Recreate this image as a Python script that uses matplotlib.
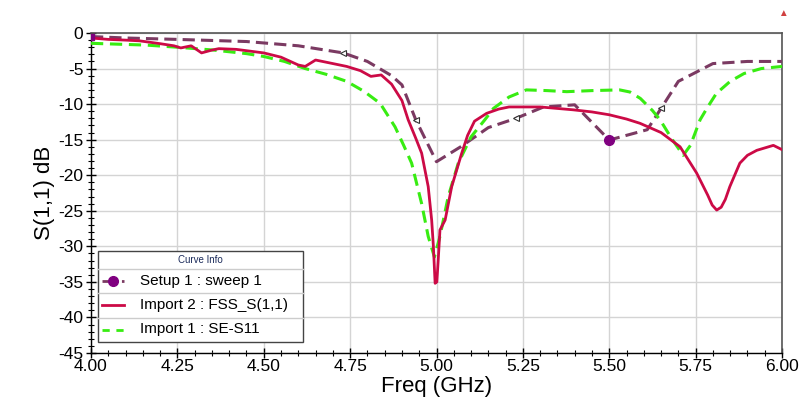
import matplotlib
matplotlib.use("Agg")
import matplotlib.pyplot as plt
from matplotlib.lines import Line2D
from matplotlib.patches import Rectangle
from matplotlib.ticker import MultipleLocator

# ---------------- data ----------------
sweep_f = [4.00, 4.10, 4.25, 4.45, 4.60, 4.73, 4.80, 4.87, 4.90, 4.94, 5.00,
           5.07, 5.15, 5.23, 5.31, 5.40, 5.50, 5.61, 5.65, 5.70, 5.80, 5.90, 6.00]
sweep_db = [-0.5, -0.7, -0.9, -1.2, -1.8, -2.8, -4.0, -6.0, -7.3, -12.2, -18.1,
            -16.0, -13.3, -12.0, -10.4, -10.1, -15.05, -13.6, -10.6, -6.8, -4.3, -4.0, -4.0]

fss_f = [4.00, 4.05, 4.10, 4.14, 4.20, 4.24, 4.26, 4.29, 4.32, 4.35, 4.37, 4.42,
         4.50, 4.55, 4.60, 4.62, 4.65, 4.70, 4.74, 4.78, 4.81, 4.84, 4.87, 4.90,
         4.918, 4.94, 4.957, 4.976, 4.986, 4.991, 4.996, 5.001, 5.005, 5.01, 5.025, 5.044,
         5.073, 5.09, 5.11, 5.145, 5.18, 5.21, 5.30, 5.395, 5.45, 5.50, 5.55, 5.589, 5.65,
         5.705, 5.753, 5.785, 5.798, 5.811, 5.824, 5.836, 5.849, 5.878, 5.90, 5.927, 5.975, 6.00]
fss_db = [-0.7, -0.9, -1.0, -1.1, -1.5, -1.8, -2.1, -1.8, -2.8, -2.4, -2.2, -2.3,
          -2.8, -3.4, -4.5, -4.7, -3.8, -4.3, -4.7, -5.3, -6.1, -5.9, -7.2, -9.5,
          -12.2, -14.8, -16.9, -21.6, -26.3, -30.0, -35.2, -35.0, -31.9, -27.7, -26.3, -21.6,
          -16.9, -14.4, -12.4, -11.3, -10.7, -10.4, -10.4, -10.8, -11.1, -11.5, -12.1, -12.7, -14.0,
          -16.0, -19.7, -22.8, -24.2, -24.9, -24.5, -23.4, -21.6, -18.3, -17.2, -16.5, -15.8, -16.4]

se_f = [4.00, 4.16, 4.25, 4.355, 4.45, 4.50, 4.56, 4.62, 4.68, 4.74, 4.79, 4.837,
        4.88, 4.905, 4.928, 4.957, 4.976, 4.994, 5.01, 5.034, 5.063, 5.10, 5.14,
        5.165, 5.21, 5.26, 5.32, 5.377, 5.45, 5.53, 5.56, 5.59, 5.625, 5.647,
        5.68, 5.714, 5.735, 5.763, 5.785, 5.81, 5.85, 5.89, 5.94, 6.00]
se_db = [-1.45, -1.7, -2.0, -2.4, -2.9, -3.3, -4.0, -5.0, -5.8, -6.8, -8.2, -9.9,
         -13.2, -15.8, -18.3, -24.0, -28.6, -31.5, -28.6, -23.0, -18.3, -14.6, -12.2,
         -10.6, -9.0, -8.0, -8.1, -8.25, -8.1, -8.0, -8.3, -9.2, -10.9, -12.2,
         -14.8, -17.2, -15.8, -12.2, -10.4, -8.5, -6.8, -5.7, -5.0, -4.7]

labels = ["Setup 1 : sweep 1", "Import 2 : FSS_S(1,1)", "Import 1 : SE-S11"]
xticks = [4.00, 4.25, 4.50, 4.75, 5.00, 5.25, 5.50, 5.75, 6.00]
yticks = [0, -5, -10, -15, -20, -25, -30, -35, -40, -45]

c_sweep = "#7b3a62"
c_fss = "#cc0a46"
c_se = "#38ec12"

# ---------------- figure ----------------
plt.rcParams['font.family'] = ['Liberation Sans', 'DejaVu Sans']
fig = plt.figure(figsize=(8.0, 4.07), dpi=100)
ax = fig.add_axes([91/800, 1-353/407, (782-91)/800, (353-33)/407])

ax.plot(sweep_f, sweep_db, color=c_sweep, lw=2.2, dashes=(4, 2), zorder=3)
# arrow-like triangle markers on the sweep curve
tri_idx = [5, 9, 13, 18]
ax.plot([sweep_f[i] for i in tri_idx], [sweep_db[i] for i in tri_idx], ls='none',
        marker='<', ms=5, mfc='white', mec='#333333', mew=0.8, zorder=5)
ax.plot([sweep_f[16]], [sweep_db[16]], ls='none', marker='o', ms=7, color='#800080', zorder=6)
ax.plot([sweep_f[0]], [sweep_db[0]], ls='none', marker='s', ms=4, color='#800080', zorder=6)

ax.plot(fss_f, fss_db, color=c_fss, lw=2.0, zorder=4)
ax.plot(se_f, se_db, color=c_se, lw=2.2, dashes=(4, 2.2), zorder=3)

ax.set_xlim(4.0, 6.0)
ax.set_ylim(-45, 0)
ax.set_xticks(xticks)
ax.set_xticklabels([f"{v:.2f}" for v in xticks])
ax.set_yticks(yticks)
ax.set_yticklabels([str(v) for v in yticks])
ax.xaxis.set_minor_locator(MultipleLocator(0.05))
ax.yaxis.set_minor_locator(MultipleLocator(1))
ax.grid(True, which='major', color='#d4d4d4', lw=1.0, zorder=0)
ax.tick_params(which='major', direction='inout', length=7, width=1, labelsize=12.5, pad=1,
               colors='black')
ax.tick_params(axis='y', which='major', pad=2)
ax.tick_params(which='minor', direction='inout', length=4, width=0.8)
for s in ['top', 'right']:
    ax.spines[s].set_color('#555555')
    ax.spines[s].set_linewidth(1.2)
for s in ['left', 'bottom']:
    ax.spines[s].set_color('black')
    ax.spines[s].set_linewidth(1.0)

ax.set_xlabel("Freq (GHz)", fontsize=16, labelpad=1)
ax.set_ylabel("S(1,1) dB", fontsize=16, labelpad=2)

# ---------------- custom legend ("Curve Info") ----------------
def px(x, y):
    return (x / 800, 1 - y / 407)

L, R, T, B = 98, 303, 251, 342
x0, y0 = px(L, B)
x1, y1 = px(R, T)
fig.patches.append(Rectangle((x0, y0), x1 - x0, y1 - y0, transform=fig.transFigure,
                             facecolor='white', edgecolor='#444444', lw=1.0, zorder=10))
for yy in [268.5, 292.5, 317.5]:
    a, b = px(L, yy)
    c, d = px(R, yy)
    fig.add_artist(Line2D([a, c], [b, d], transform=fig.transFigure, color='#cccccc', lw=1.0, zorder=11))
fig.text(*px(200, 260), "Curve Info", fontsize=7, color='#1a2a5a', ha='center', va='center',
         zorder=12)
rows = [280.5, 305, 329.5]
styles = [dict(color=c_sweep, lw=2, dashes=(2, 1.5)),
          dict(color=c_fss, lw=2),
          dict(color=c_se, lw=2, dashes=(2.6, 2.4))]
for yy, lab, st in zip(rows, labels, styles):
    a, b = px(102, yy)
    c, d = px(124, yy)
    fig.add_artist(Line2D([a, c], [b, d], transform=fig.transFigure, zorder=12, **st))
    fig.text(*px(140, yy), lab, fontsize=11, color='black', ha='left', va='center',
             zorder=12)
mx, my = px(113, 280.5)
fig.add_artist(Line2D([mx], [my], transform=fig.transFigure, marker='o', ms=7,
                      color='#800080', ls='none', zorder=13))

# small logo at top right
fig.text(*px(783, 13), "\u25B2", fontsize=7, color='#d04040', ha='center', va='center')

fig.savefig("out.png", dpi=100)
